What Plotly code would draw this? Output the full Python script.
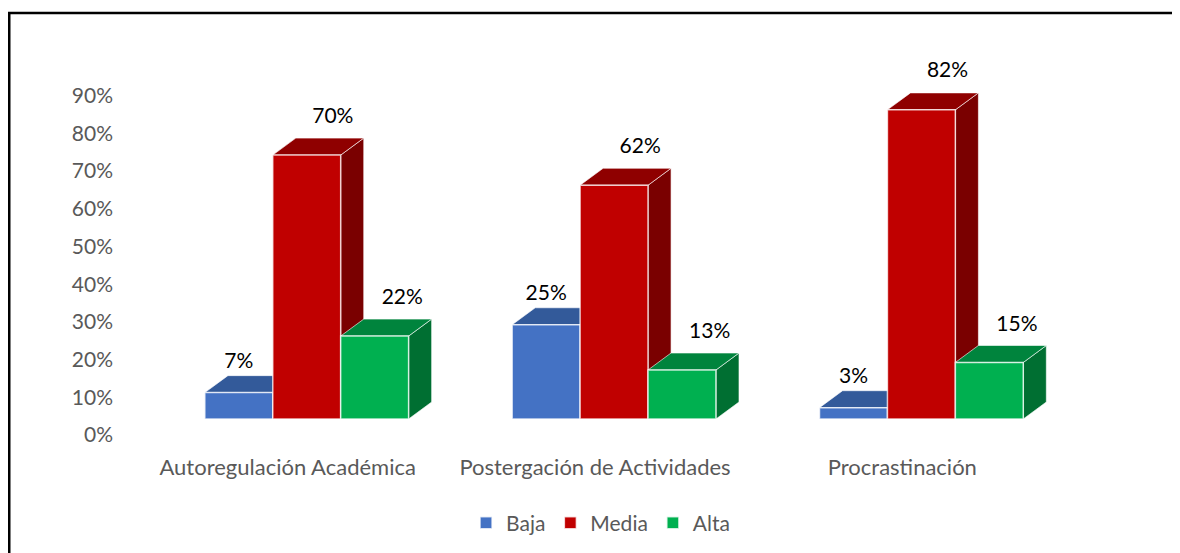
import plotly.graph_objects as go

categories = ["Autoregulación Académica", "Postergación de Actividades", "Procrastinación"]
series_names = ["Baja", "Media", "Alta"]
baja = [7, 25, 3]
media = [70, 62, 82]
alta = [22, 13, 15]
y_ticks = [0, 10, 20, 30, 40, 50, 60, 70, 80, 90]

# colours: front, top, side
front_cols = ["#4472C4", "#C00000", "#00B050"]
top_cols = ["#335A9A", "#8F0000", "#00843D"]
side_cols = ["#2B4C85", "#7A0000", "#006F32"]

bar_w = 0.221
shift = 0.062          # front faces sit a bit right of the category label
depth_x = 0.075        # 3d depth, x units
depth_y = 4.5          # 3d depth, y units
label_dx = [0.0, 0.085, 0.09]
label_dy = [8.0, 10.0, 9.8]
tick_shift = 4.24      # axis labels sit lower than the bar base

FONT = "Lato, Calibri, sans-serif"

values = [baja, media, alta]
x_idx = list(range(len(categories)))

fig = go.Figure()
shapes = []

for j, (name, vals) in enumerate(zip(series_names, values)):
    off = shift + (j - 1.5) * bar_w
    fig.add_trace(go.Bar(
        x=x_idx, y=vals, name=name, width=bar_w, offset=off,
        marker=dict(color=front_cols[j], line=dict(color="rgba(255,255,255,0.75)", width=1.5)),
        hoverinfo="skip",
    ))

# side and top faces, in drawing order per category
for i in x_idx:
    for j, vals in enumerate(values):
        v = vals[i]
        x0 = i + shift + (j - 1.5) * bar_w
        x1 = x0 + bar_w
        side = (f"M {x1},0 L {x1},{v} L {x1 + depth_x},{v + depth_y} "
                f"L {x1 + depth_x},{depth_y} Z")
        top = (f"M {x0},{v} L {x1},{v} L {x1 + depth_x},{v + depth_y} "
               f"L {x0 + depth_x},{v + depth_y} Z")
        for path, col in ((side, side_cols[j]), (top, top_cols[j])):
            shapes.append(dict(type="path", path=path, xref="x", yref="y", layer="below",
                               fillcolor=col, line=dict(color="rgba(255,255,255,0.6)", width=1)))

# data labels
for j, vals in enumerate(values):
    xs = [i + shift + (j - 1.0) * bar_w + label_dx[j] for i in x_idx]
    fig.add_trace(go.Scatter(
        x=xs, y=[v + label_dy[j] for v in vals], mode="text",
        text=[f"{v}%" for v in vals], textposition="middle center",
        textfont=dict(size=21, color="#000000", family=FONT),
        showlegend=False, hoverinfo="skip",
    ))

# outer frame
shapes.append(dict(type="rect", xref="paper", yref="paper",
                   x0=-0.1353, x1=1.2, y0=-0.35, y1=1.122,
                   line=dict(color="#000000", width=2.5), fillcolor="rgba(0,0,0,0)"))

fig.update_layout(
    width=1180, height=553,
    margin=dict(l=126, r=131.5, t=52, b=116),
    paper_bgcolor="white", plot_bgcolor="white",
    font=dict(family=FONT, size=21, color="#595959"),
    shapes=shapes,
    showlegend=True,
    legend=dict(orientation="h", x=0.506, xanchor="center", y=-0.203, yanchor="middle",
                font=dict(size=21, color="#595959"), traceorder="normal", itemwidth=30),
    xaxis=dict(range=[-0.5, 2.5], tickvals=x_idx, ticktext=categories,
               tickfont=dict(size=22),
               showgrid=False, zeroline=False, showline=False, ticks="",
               ticklabelstandoff=7),
    yaxis=dict(range=[-6.9, 95.22], tickvals=[t - tick_shift for t in y_ticks],
               ticktext=[f"{t}%" for t in y_ticks], tickfont=dict(size=21),
               showgrid=False, zeroline=False, showline=False, ticks="",
               ticklabelstandoff=20),
)

fig.write_html("out.html")
